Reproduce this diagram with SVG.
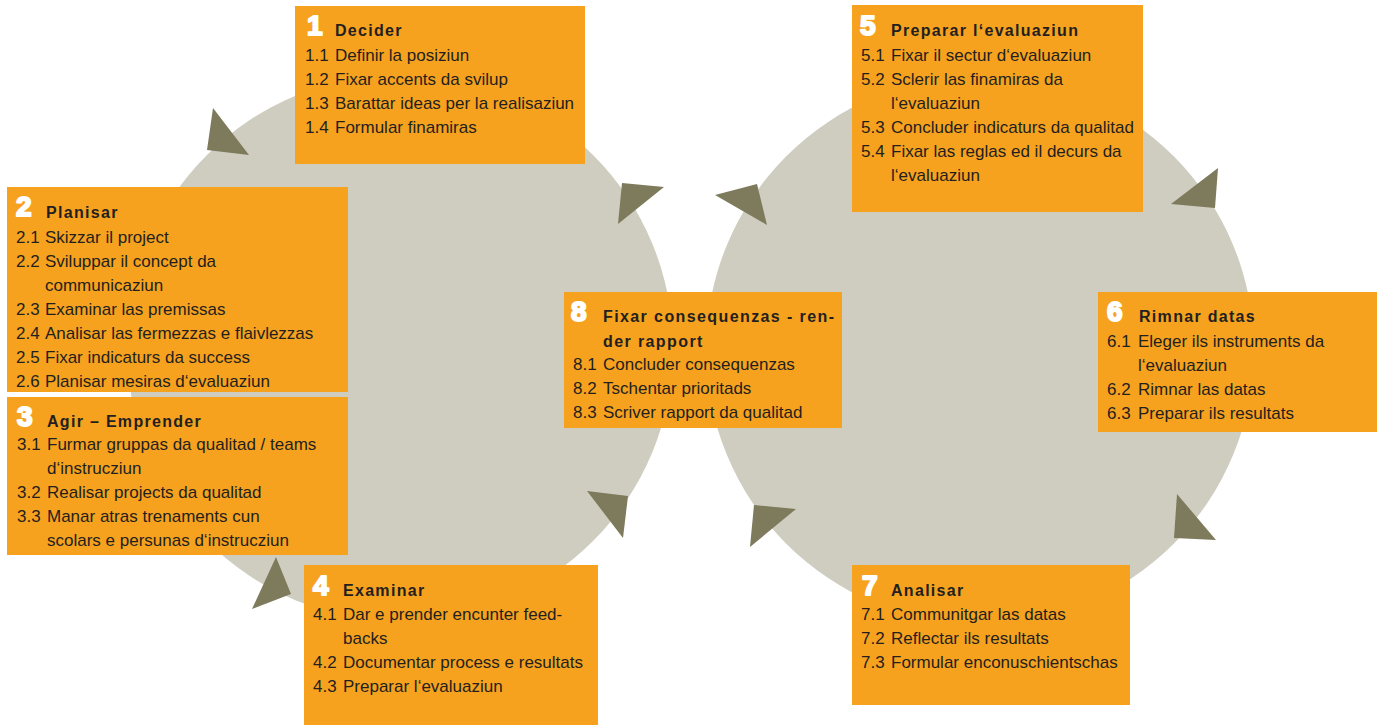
<svg xmlns="http://www.w3.org/2000/svg" width="1384" height="726" viewBox="0 0 1384 726">
<style>
.bg{fill:#fff}
.circ{fill:#CFCDC0}
.arr{fill:#7E7A5C}
.box{fill:#F7A21E}
.num{font-family:"Liberation Sans",Arial,sans-serif;font-weight:bold;font-size:28px;fill:#fff;stroke:#fff;stroke-width:2;stroke-linejoin:round}
.ttl{font-family:"Liberation Sans",Arial,sans-serif;font-weight:bold;font-size:16px;letter-spacing:1.3px;fill:#231F20}
.it{font-family:"Liberation Sans",Arial,sans-serif;font-size:17px;fill:#231F20}
</style>
<rect class="bg" x="0" y="0" width="1384" height="726"/>
<g id="cycles">
<circle class="circ" cx="400" cy="348" r="273"/>
<circle class="circ" cx="980" cy="350" r="274"/>
</g>
<g id="connectors">
<polygon class="arr" points="213,108 207,150 249,155"/>
<polygon class="arr" points="622,183 664,187 618,224"/>
<polygon class="arr" points="587,491 628,496 623,538"/>
<polygon class="arr" points="276,557 291,594 252,609"/>
<polygon class="arr" points="715,195 757,184 767,225"/>
<polygon class="arr" points="1171,204 1218,168 1215,208"/>
<polygon class="arr" points="1177,494 1216,540 1174,538"/>
<polygon class="arr" points="754,505 796,509 750,547"/>
</g>
<g id="node1">
<rect class="box" x="295" y="6" width="290" height="158"/>
<text class="num" x="307" y="35">1</text>
<text class="ttl" x="335" y="36">Decider</text>
<text class="it"><tspan x="305" y="61">1.1</tspan><tspan x="335" y="61">Definir la posiziun</tspan></text>
<text class="it"><tspan x="305" y="85">1.2</tspan><tspan x="335" y="85">Fixar accents da svilup</tspan></text>
<text class="it"><tspan x="305" y="109">1.3</tspan><tspan x="335" y="109">Barattar ideas per la realisaziun</tspan></text>
<text class="it"><tspan x="305" y="133">1.4</tspan><tspan x="335" y="133">Formular finamiras</tspan></text>
</g>
<g id="node2">
<rect class="box" x="7" y="187" width="341" height="205"/>
<text class="num" x="16" y="216">2</text>
<text class="ttl" x="46" y="218">Planisar</text>
<text class="it"><tspan x="16" y="243">2.1</tspan><tspan x="45" y="243">Skizzar il project</tspan></text>
<text class="it"><tspan x="16" y="267">2.2</tspan><tspan x="45" y="267">Sviluppar il concept da</tspan></text>
<text class="it"><tspan x="45" y="291">communicaziun</tspan></text>
<text class="it"><tspan x="16" y="315">2.3</tspan><tspan x="45" y="315">Examinar las premissas</tspan></text>
<text class="it"><tspan x="16" y="339">2.4</tspan><tspan x="45" y="339">Analisar las fermezzas e flaivlezzas</tspan></text>
<text class="it"><tspan x="16" y="363">2.5</tspan><tspan x="45" y="363">Fixar indicaturs da success</tspan></text>
<text class="it"><tspan x="16" y="387">2.6</tspan><tspan x="45" y="387">Planisar mesiras d‘evaluaziun</tspan></text>
</g>
<g id="node3">
<rect class="box" x="7" y="397" width="341" height="158"/>
<text class="num" x="17" y="426">3</text>
<text class="ttl" x="47" y="427">Agir – Emprender</text>
<text class="it"><tspan x="17" y="450">3.1</tspan><tspan x="47" y="450">Furmar gruppas da qualitad / teams</tspan></text>
<text class="it"><tspan x="47" y="474">d‘instrucziun</tspan></text>
<text class="it"><tspan x="17" y="498">3.2</tspan><tspan x="47" y="498">Realisar projects da qualitad</tspan></text>
<text class="it"><tspan x="17" y="522">3.3</tspan><tspan x="47" y="522">Manar atras trenaments cun</tspan></text>
<text class="it"><tspan x="47" y="546">scolars e persunas d‘instrucziun</tspan></text>
</g>
<g id="node4">
<rect class="box" x="304" y="565" width="294" height="160"/>
<text class="num" x="313" y="595">4</text>
<text class="ttl" x="343" y="596">Examinar</text>
<text class="it"><tspan x="313" y="620">4.1</tspan><tspan x="343" y="620">Dar e prender encunter feed-</tspan></text>
<text class="it"><tspan x="343" y="644">backs</tspan></text>
<text class="it"><tspan x="313" y="668">4.2</tspan><tspan x="343" y="668">Documentar process e resultats</tspan></text>
<text class="it"><tspan x="313" y="692">4.3</tspan><tspan x="343" y="692">Preparar l‘evaluaziun</tspan></text>
</g>
<g id="node5">
<rect class="box" x="852" y="5" width="291" height="207"/>
<text class="num" x="860" y="35">5</text>
<text class="ttl" x="891" y="36">Preparar l‘evaluaziun</text>
<text class="it"><tspan x="861" y="61">5.1</tspan><tspan x="891" y="61">Fixar il sectur d‘evaluaziun</tspan></text>
<text class="it"><tspan x="861" y="85">5.2</tspan><tspan x="891" y="85">Sclerir las finamiras da</tspan></text>
<text class="it"><tspan x="891" y="109">l‘evaluaziun</tspan></text>
<text class="it"><tspan x="861" y="133">5.3</tspan><tspan x="891" y="133">Concluder indicaturs da qualitad</tspan></text>
<text class="it"><tspan x="861" y="157">5.4</tspan><tspan x="891" y="157">Fixar las reglas ed il decurs da</tspan></text>
<text class="it"><tspan x="891" y="181">l‘evaluaziun</tspan></text>
</g>
<g id="node6">
<rect class="box" x="1098" y="292" width="279" height="140"/>
<text class="num" x="1107" y="321">6</text>
<text class="ttl" x="1139" y="322">Rimnar datas</text>
<text class="it"><tspan x="1107" y="347">6.1</tspan><tspan x="1138" y="347">Eleger ils instruments da</tspan></text>
<text class="it"><tspan x="1138" y="371">l‘evaluaziun</tspan></text>
<text class="it"><tspan x="1107" y="395">6.2</tspan><tspan x="1138" y="395">Rimnar las datas</tspan></text>
<text class="it"><tspan x="1107" y="419">6.3</tspan><tspan x="1138" y="419">Preparar ils resultats</tspan></text>
</g>
<g id="node7">
<rect class="box" x="852" y="565" width="278" height="140"/>
<text class="num" x="862" y="595">7</text>
<text class="ttl" x="891" y="596">Analisar</text>
<text class="it"><tspan x="861" y="620">7.1</tspan><tspan x="891" y="620">Communitgar las datas</tspan></text>
<text class="it"><tspan x="861" y="644">7.2</tspan><tspan x="891" y="644">Reflectar ils resultats</tspan></text>
<text class="it"><tspan x="861" y="668">7.3</tspan><tspan x="891" y="668">Formular enconuschientschas</tspan></text>
</g>
<g id="node8">
<rect class="box" x="564" y="292" width="278" height="136"/>
<text class="num" x="571" y="321">8</text>
<text class="ttl" x="603" y="322" style="letter-spacing:1.4px">Fixar consequenzas - ren-</text>
<text class="ttl" x="603" y="347" style="letter-spacing:1.4px">der rapport</text>
<text class="it"><tspan x="573" y="370">8.1</tspan><tspan x="603" y="370">Concluder consequenzas</tspan></text>
<text class="it"><tspan x="573" y="394">8.2</tspan><tspan x="603" y="394">Tschentar prioritads</tspan></text>
<text class="it"><tspan x="573" y="418">8.3</tspan><tspan x="603" y="418">Scriver rapport da qualitad</tspan></text>
</g>
</svg>
